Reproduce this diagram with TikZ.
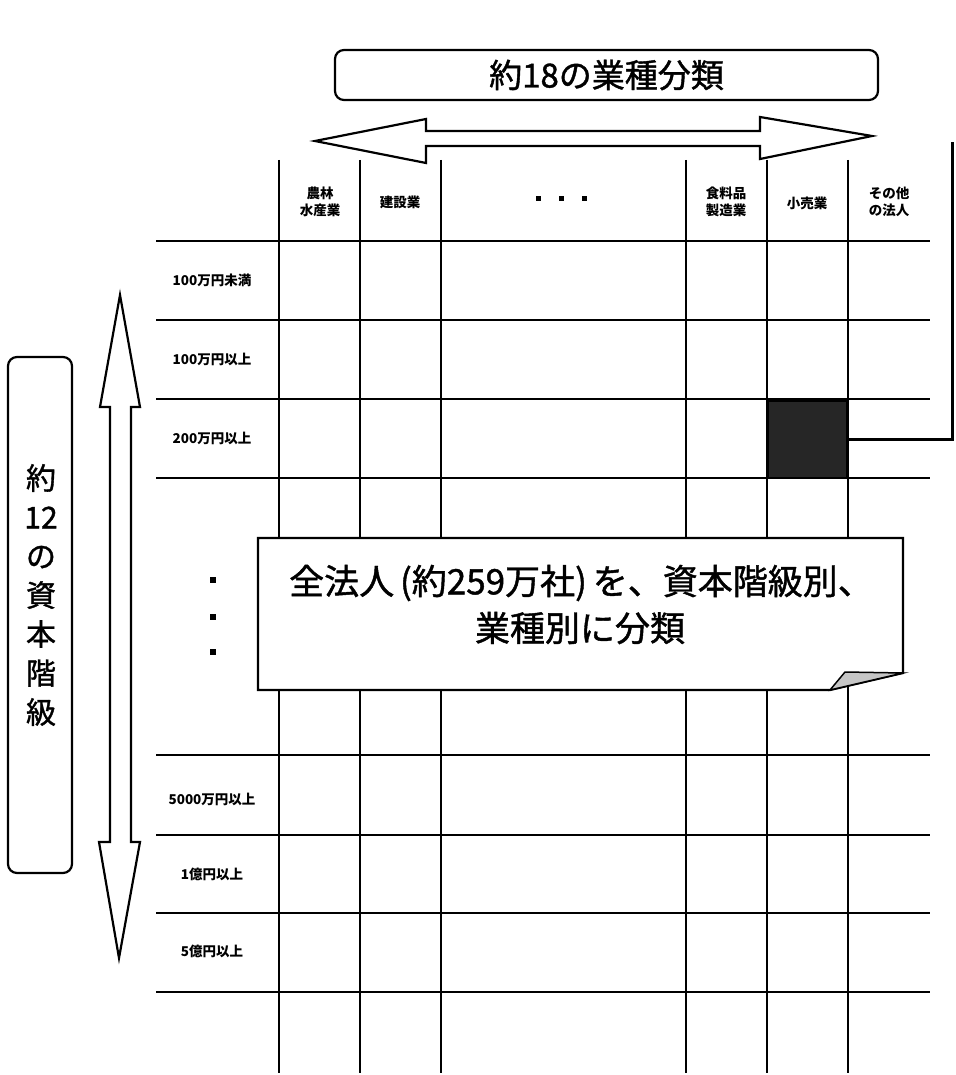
\documentclass[tikz,border=0pt]{standalone}
\usepackage{fontspec}
\setmainfont{Noto Sans CJK JP}
\newfontfamily\heavyjp{Noto Sans CJK JP}[FakeBold=1.2]
\begin{document}
\begin{tikzpicture}[x=1pt,y=-1pt,
  gridline/.style={line width=2pt},
  outline/.style={line width=2.2pt, line join=miter},
  small/.style={font=\fontsize{13.5}{16.5}\selectfont\bfseries, align=center, inner sep=0pt},
  big/.style={font=\heavyjp\fontsize{35}{40}\selectfont, inner sep=0pt},
  sq/.style={fill=black}]
\useasboundingbox[fill=white] (0,0) rectangle (955,1075);

% grid
\foreach \x in {279,360,441,686,767,848}
  \draw[gridline] (\x,160) -- (\x,1073);
\foreach \y in {241,320,399,478,755,835,913,992}
  \draw[gridline] (156,\y) -- (930,\y);

% highlighted cell and connector
\node[draw, line width=2pt, fill=black!85, minimum width=79pt, minimum height=77pt, inner sep=0pt] (cell) at (807.5,439) {};
\coordinate (linktop) at (952,142);
\draw[line width=3pt] (cell.east) -| (linktop);

% column headers
\node[small] (h1) at (320,202) {農林\\水産業};
\node[small] (h2) at (400,202) {建設業};
\fill[sq] (536,196) rectangle (541,201);
\fill[sq] (559,196) rectangle (564,201);
\fill[sq] (582,196) rectangle (587,201);
\node[small] (h4) at (726,202) {食料品\\製造業};
\node[small] (h5) at (807,203) {小売業};
\node[small] (h6) at (889,202) {その他\\の法人};

% row labels
\node[small] (r1) at (212,280) {100万円未満};
\node[small] (r2) at (212,359) {100万円以上};
\node[small] (r3) at (212,438) {200万円以上};
\node[small] (r4) at (212,799) {5000万円以上};
\node[small] (r5) at (212,874) {1億円以上};
\node[small] (r6) at (212,951) {5億円以上};
\fill[sq] (210,577) rectangle (216,583);
\fill[sq] (210,614) rectangle (216,620);
\fill[sq] (210,649) rectangle (216,655);

% top header box and horizontal double arrow
\node[draw, outline, rounded corners=9pt, minimum width=543pt, minimum height=50pt, inner sep=0pt, font=\heavyjp\fontsize{33}{40}\selectfont] (hdr) at (606.5,75) {約18の業種分類};
\draw[outline, fill=white] (315,141) -- (426,119) -- (426,131) -- (760,131) -- (760,117) -- (872,136) -- (760,159) -- (760,146) -- (426,146) -- (426,163) -- cycle;

% left box and vertical double arrow
\node[draw, outline, rounded corners=9pt, minimum width=64pt, minimum height=516pt, inner sep=0pt] (capbox) at (40,615) {};
\node[align=center, inner sep=0pt, font=\heavyjp\fontsize{30}{39}\selectfont] (captext) at (41,595) {約\\12\\の\\資\\本\\階\\級};
\draw[outline, fill=white] (120,295) -- (140,407) -- (131,407) -- (131,842) -- (140,842) -- (119,958) -- (99,842) -- (110,842) -- (110,407) -- (100,407) -- cycle;

% callout
\draw[outline, fill=white] (258,538) -- (903,538) -- (903,673) -- (830,690) -- (258,690) -- cycle;
\draw[line width=1.5pt, fill=gray!45] (830,690) -- (845,672) -- (903,673) -- cycle;
\node[big] (c1) at (581,583) {全法人\,(約259万社)\,を、資本階級別、};
\node[big] (c2) at (580,628) {業種別に分類};
\end{tikzpicture}
\end{document}
